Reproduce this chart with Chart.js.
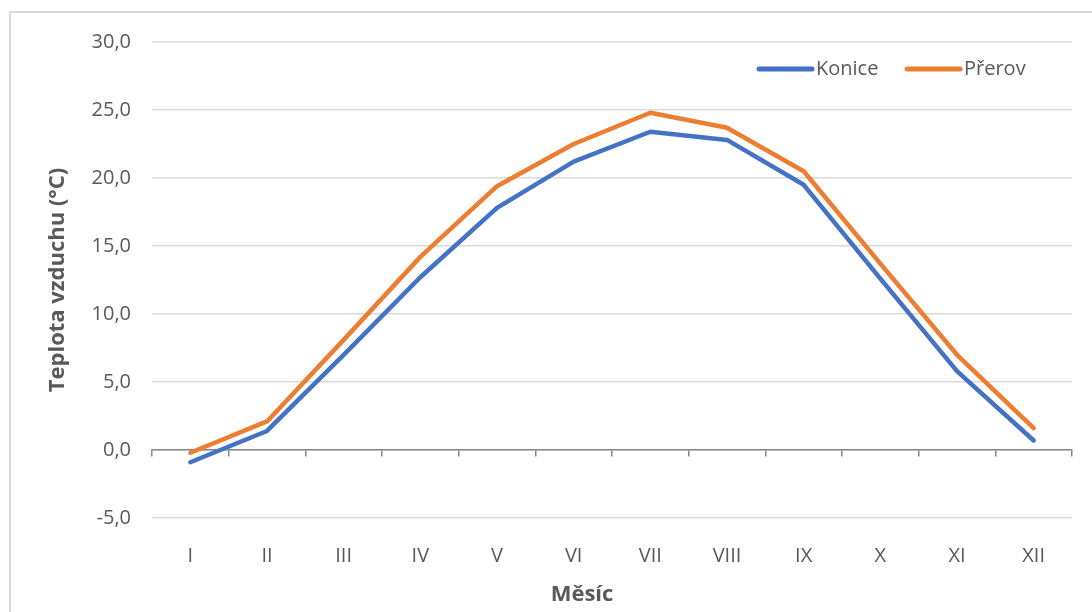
<!DOCTYPE html>
<html>
<head>
<meta charset="utf-8">
<script src="https://cdn.jsdelivr.net/npm/chart.js@4/dist/chart.umd.min.js"></script>
<style>
  html, body { margin: 0; padding: 0; background: #ffffff; overflow: hidden; }
  #wrap { position: relative; width: 1092px; height: 612px; }
  #frame { position: absolute; left: 9px; top: 11px; width: 1100px; height: 700px;
           border: 2px solid #d9d9d9; box-sizing: border-box; pointer-events: none; }
  canvas { position: absolute; left: 0; top: 0; }
</style>
</head>
<body>
<div id="wrap">
  <canvas id="c" width="1092" height="612"></canvas>
  <div id="frame"></div>
</div>
<script>
const months = ['I', 'II', 'III', 'IV', 'V', 'VI', 'VII', 'VIII', 'IX', 'X', 'XI', 'XII'];
const konice = [-0.9, 1.4, 7.0, 12.7, 17.8, 21.2, 23.4, 22.8, 19.5, 12.6, 5.8, 0.7];
const prerov = [-0.2, 2.1, 8.1, 14.2, 19.4, 22.5, 24.8, 23.7, 20.5, 13.7, 7.0, 1.6];
const seriesNames = ['Konice', 'Přerov'];
const yTitle = 'Teplota vzduchu (°C)';
const xTitle = 'Měsíc';

const FONT = "'Open Sans', 'Noto Sans', sans-serif";
const TXT = '#595959';

const legendPlugin = {
  id: 'lineLegend',
  afterDraw(chart) {
    const ctx = chart.ctx;
    const pos = [757, 905];
    const y = 69;
    ctx.save();
    chart.data.datasets.forEach((ds, i) => {
      const x = pos[i];
      ctx.strokeStyle = ds.borderColor;
      ctx.lineWidth = 5;
      ctx.lineCap = 'round';
      ctx.beginPath();
      ctx.moveTo(x + 2, y);
      ctx.lineTo(x + 55, y);
      ctx.stroke();
      ctx.fillStyle = TXT;
      ctx.font = "20px " + FONT;
      ctx.textBaseline = 'middle';
      ctx.textAlign = 'left';
      ctx.fillText(ds.label, x + 59, y);
    });
    // x-axis title (Excel places it slightly left of the plot centre)
    ctx.fillStyle = TXT;
    ctx.font = "bold 22px " + FONT;
    ctx.textAlign = 'center';
    ctx.textBaseline = 'middle';
    ctx.fillText(xTitle, 582, 595);
    ctx.restore();
  }
};

new Chart(document.getElementById('c'), {
  type: 'line',
  data: {
    labels: months,
    datasets: [
      { label: seriesNames[0], data: konice, borderColor: '#4472C4', backgroundColor: '#4472C4',
        borderWidth: 4.5, pointRadius: 0, tension: 0, borderCapStyle: 'round', borderJoinStyle: 'round', xAxisID: 'x' },
      { label: seriesNames[1], data: prerov, borderColor: '#ED7D31', backgroundColor: '#ED7D31',
        borderWidth: 4.5, pointRadius: 0, tension: 0, borderCapStyle: 'round', borderJoinStyle: 'round', xAxisID: 'x' }
    ]
  },
  options: {
    responsive: false,
    animation: false,
    devicePixelRatio: 1,
    layout: { padding: { top: 42, right: 20, left: 0, bottom: 0 } },
    plugins: {
      legend: { display: false },
      tooltip: { enabled: false }
    },
    scales: {
      x: {
        type: 'category',
        position: 'bottom',
        offset: true,
        grid: { display: false },
        border: { display: false },
        ticks: { color: TXT, font: { family: FONT, size: 20 }, padding: 18, maxRotation: 0, autoSkip: false },
        title: { display: false },
        afterFit(scale) { scale.height = 94; }
      },
      x2: {
        type: 'category',
        position: { y: 0 },
        offset: true,
        grid: { display: true, offset: true, drawOnChartArea: false, drawTicks: true, tickLength: 6,
                color: '#868686', lineWidth: 1.5 },
        border: { display: true, color: '#868686', width: 1.5 },
        ticks: { display: false }
      },
      y: {
        min: -5,
        max: 30,
        ticks: { stepSize: 5, color: TXT, font: { family: FONT, size: 20 }, padding: 21,
                 callback: (v) => v.toFixed(1).replace('.', ',') },
        grid: { color: '#d9d9d9', lineWidth: 1.5, drawTicks: false },
        border: { display: false },
        title: { display: true, text: yTitle, color: TXT, font: { family: FONT, size: 22, weight: 'bold' },
                 padding: { top: 45, bottom: 0 } },
        afterFit(scale) { scale.width = 152; }
      }
    }
  },
  plugins: [legendPlugin]
});
</script>
</body>
</html>
